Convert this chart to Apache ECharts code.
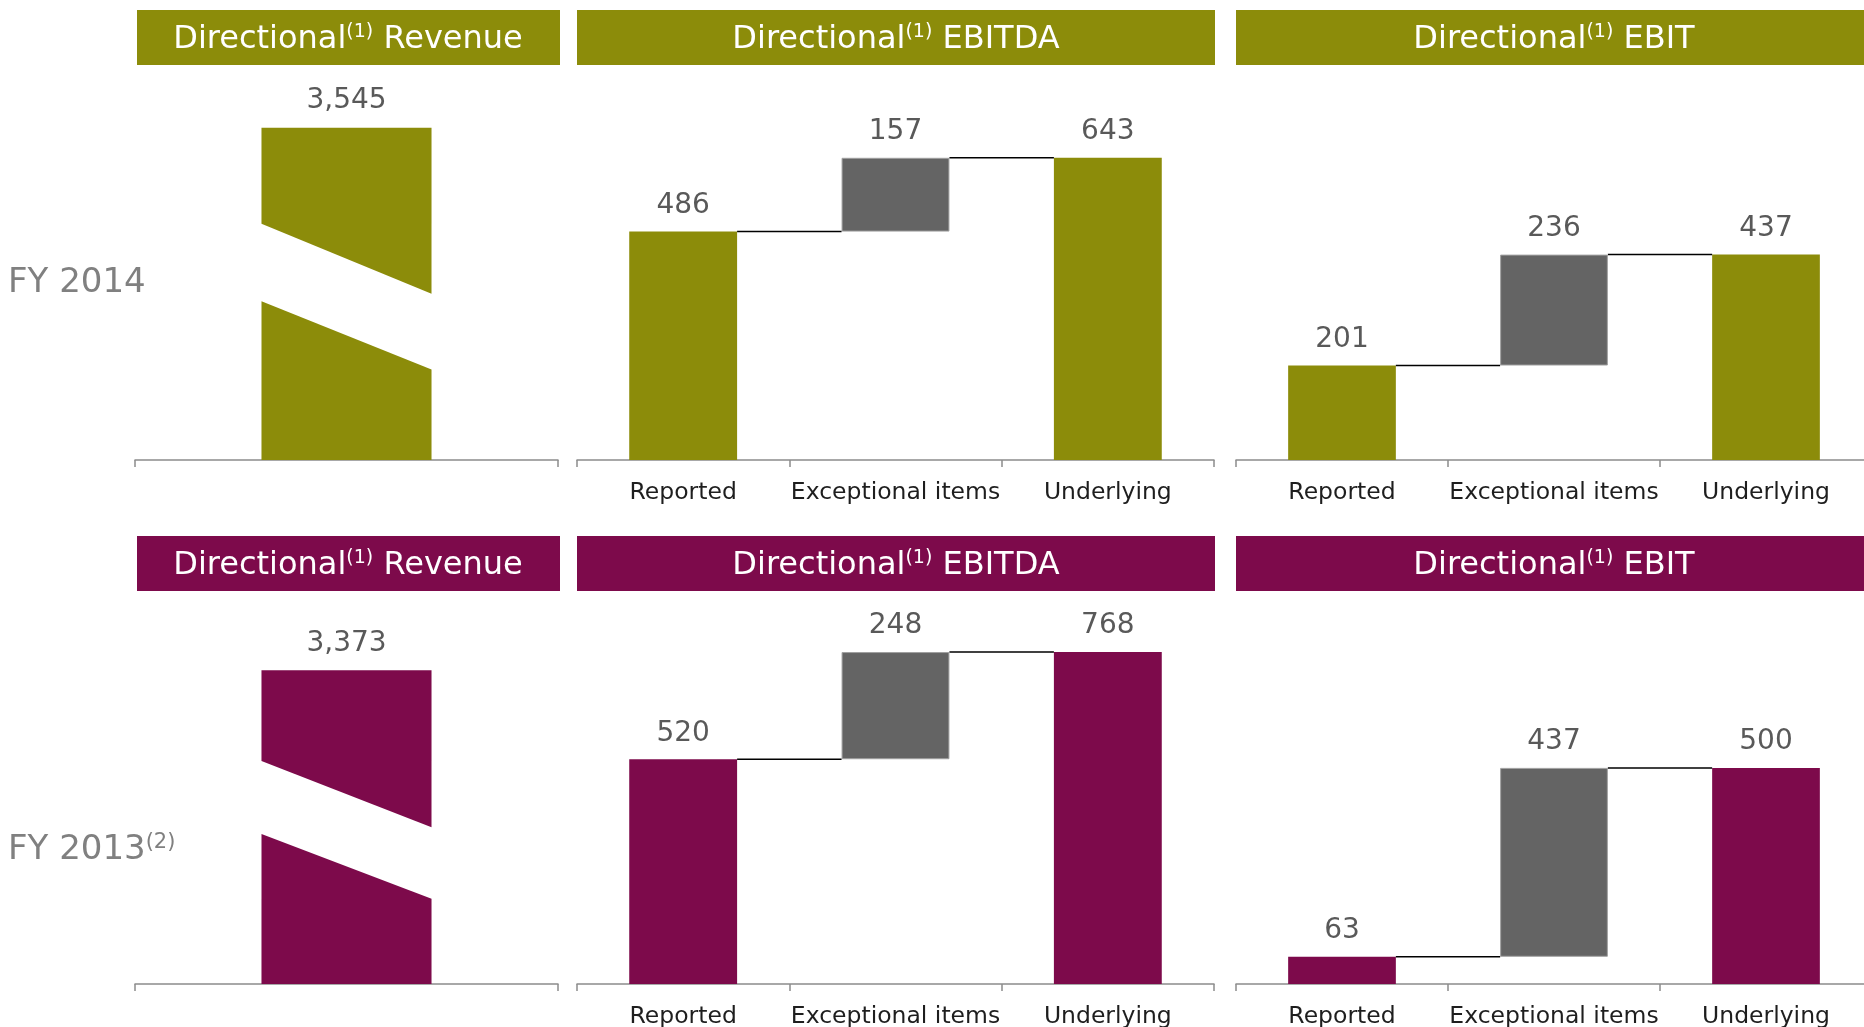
<!DOCTYPE html>
<html><head><meta charset="utf-8">
<script src="https://cdn.jsdelivr.net/npm/echarts@6/dist/echarts.min.js"></script>
<style>html,body{margin:0;padding:0;background:#fff}#c{width:1864px;height:1027px}</style>
</head><body><div id="c"></div><script>
// ---- data ----
const rowLabels = ['FY 2014', 'FY 2013'];
const rowLabelNotes = ['', '(2)'];
const panelTitles = ['Revenue', 'EBITDA', 'EBIT'];
const categories = ['Reported', 'Exceptional items', 'Underlying'];
const revenue = [3545, 3373];
const ebitdaReported = [486, 520];
const ebitdaExceptional = [157, 248];
const ebitdaUnderlying = [643, 768];
const ebitReported = [201, 63];
const ebitExceptional = [236, 437];
const ebitUnderlying = [437, 500];
const revenueMax = [4000, 4000];
const profitMax = [800, 900];

// ---- style / layout ----
const FONT = 'DejaVu Sans';
const rowColors = ['#8C8C0A', '#7D0A4B'];
const GREY = '#646464';
const rows = [
  {axisY: 460, bannerTop: 10, labelY: 283, plotH: [375, 376, 376]},
  {axisY: 984, bannerTop: 536, labelY: 850, plotH: [372, 389, 389]}
];
const panels = [
  {left: 135, width: 423, bannerL: 137, bannerR: 560, textC: 348},
  {left: 577, width: 637, bannerL: 577, bannerR: 1215, textC: 896},
  {left: 1236, width: 636, bannerL: 1236, bannerR: 1864, textC: 1554}
];
const BANNER_H = 55;
const BAR_W = 0.508;

const grids = [], xAxes = [], yAxes = [], series = [], graphics = [];

for (let r = 0; r < 2; r++) {
  const row = rows[r];
  for (let p = 0; p < 3; p++) {
    const pan = panels[p];
    const H = row.plotH[p];
    grids.push({left: pan.left, top: row.axisY - H, width: pan.width, height: H, outerBoundsMode: 'none'});
    const gi = grids.length - 1;
    xAxes.push({
      type: 'category', gridIndex: gi, data: p === 0 ? [''] : categories.slice(),
      boundaryGap: true,
      axisLine: {show: true, lineStyle: {color: '#8c8c8c', width: 1.5}},
      axisTick: {show: true, length: 7, lineStyle: {color: '#8c8c8c', width: 1.5}},
      axisLabel: {show: true, interval: 0, fontSize: 23.5, fontFamily: FONT, color: '#1e1e1e', margin: 21},
      splitLine: {show: false}
    });
    yAxes.push({type: 'value', gridIndex: gi, min: 0, max: p === 0 ? revenueMax[r] : profitMax[r], show: false});
    const color = rowColors[r];
    if (p === 0) {
      series.push({
        type: 'custom', xAxisIndex: gi, yAxisIndex: gi,
        data: [[0, revenue[r]]],
        renderItem: function (params, api) {
          const v = api.value(1);
          const top = api.coord([0, v]);
          const bot = api.coord([0, 0]);
          const band = api.size([1, 0])[0];
          const w = band * 0.402;
          const x0 = top[0] - w / 2, x1 = top[0] + w / 2;
          const h = bot[1] - top[1];
          const f = t => bot[1] - h * t;
          return {type: 'group', children: [
            {type: 'polygon', shape: {points: [[x0, top[1]], [x1, top[1]], [x1, f(0.50)], [x0, f(0.711)]]}, style: {fill: color}},
            {type: 'polygon', shape: {points: [[x0, f(0.478)], [x1, f(0.272)], [x1, bot[1]], [x0, bot[1]]]}, style: {fill: color}},
            {type: 'text', style: {text: v.toLocaleString('en-US'), x: top[0], y: top[1] - 13, align: 'center', verticalAlign: 'bottom',
              fill: '#595959', font: '28px ' + FONT}}
          ]};
        }
      });
    } else {
      const rep = p === 1 ? ebitdaReported[r] : ebitReported[r];
      const exc = p === 1 ? ebitdaExceptional[r] : ebitExceptional[r];
      const und = p === 1 ? ebitdaUnderlying[r] : ebitUnderlying[r];
      const stack = 'w' + gi;
      series.push({
        type: 'bar', xAxisIndex: gi, yAxisIndex: gi, stack: stack, barWidth: (BAR_W * 100) + '%', silent: true,
        itemStyle: {color: 'rgba(0,0,0,0)'}, data: [0, rep, 0]
      });
      series.push({
        type: 'bar', xAxisIndex: gi, yAxisIndex: gi, stack: stack, barWidth: (BAR_W * 100) + '%',
        data: [
          {value: rep, itemStyle: {color: color}},
          {value: exc, itemStyle: {color: GREY, borderColor: '#a0a0a0', borderWidth: 1}},
          {value: und, itemStyle: {color: color}}
        ],
        label: {show: true, position: 'top', distance: 12, fontSize: 28, fontFamily: FONT, color: '#595959'}
      });
      series.push({
        type: 'custom', xAxisIndex: gi, yAxisIndex: gi, z: 3,
        data: [[0, rep], [1, und]],
        renderItem: function (params, api) {
          const pt = api.coord([api.value(0), api.value(1)]);
          const band = api.size([1, 0])[0];
          const half = band * BAR_W / 2;
          return {type: 'line', shape: {x1: pt[0] + half, y1: pt[1], x2: pt[0] + band - half, y2: pt[1]},
            style: {stroke: '#000', lineWidth: 1.5}};
        }
      });
    }
    // banner
    graphics.push({type: 'rect', left: pan.bannerL, top: row.bannerTop,
      shape: {width: pan.bannerR - pan.bannerL, height: BANNER_H}, style: {fill: color}, z: 1});
    graphics.push({type: 'text', x: pan.textC, y: row.bannerTop + BANNER_H / 2 + 2, z: 2,
      style: {text: '{a|Directional}{s|(1)}{a| ' + panelTitles[p] + '}', align: 'center', verticalAlign: 'middle',
        rich: {a: {fontSize: 32, fontFamily: FONT, fill: '#fff', lineHeight: 34},
               s: {fontSize: 19, fontFamily: FONT, fill: '#fff', verticalAlign: 'top', lineHeight: 21}}}});
  }
  graphics.push({type: 'text', x: 8, y: row.labelY, z: 2,
    style: {text: '{a|' + rowLabels[r] + '}' + (rowLabelNotes[r] ? '{s|' + rowLabelNotes[r] + '}' : ''),
      align: 'left', verticalAlign: 'middle',
      rich: {a: {fontSize: 34, fontFamily: FONT, fill: '#808080', lineHeight: 36},
             s: {fontSize: 21, fontFamily: FONT, fill: '#808080', verticalAlign: 'top', lineHeight: 23}}}});
}

const chart = echarts.init(document.getElementById('c'), null, {renderer: 'canvas'});
chart.setOption({
  animation: false,
  backgroundColor: '#fff',
  grid: grids, xAxis: xAxes, yAxis: yAxes, series: series,
  graphic: {elements: graphics}
});
</script></body></html>
